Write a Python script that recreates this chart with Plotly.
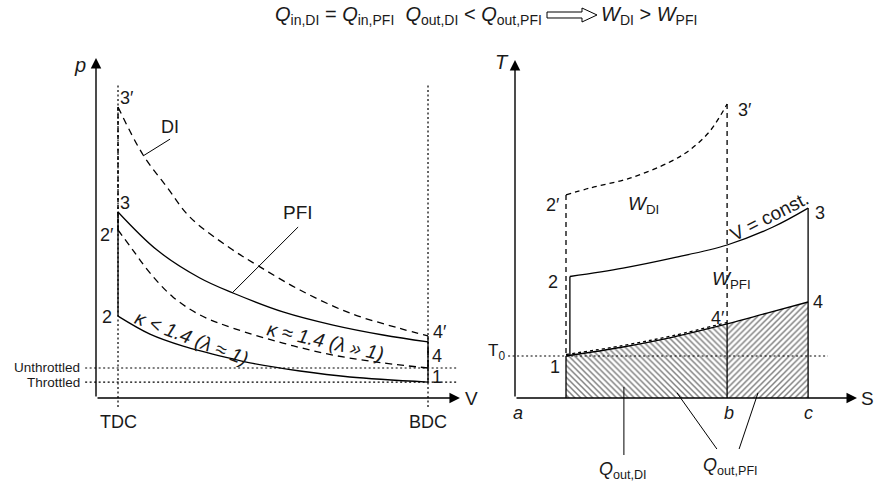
import plotly.graph_objects as go

FONT = "Liberation Sans"

# ---------------- left panel: p–V diagram (diagram units) ----------------
V_TDC = 0.71
V_BDC = 10.71
P_UNTHROTTLED = 10.0
P_THROTTLED = 5.3

pfi_comp_V = [10.71, 8.19, 6.58, 4.97, 4.42, 2.81, 1.74, 0.71]
pfi_comp_p = [5.3, 7.0, 9.0, 11.7, 13.0, 17.3, 21.3, 27.3]
pfi_exp_V = [0.71, 1.97, 3.35, 4.42, 6.03, 7.65, 9.26, 10.71]
pfi_exp_p = [62.0, 49.3, 40.0, 35.0, 28.7, 24.3, 21.0, 18.7]
di_comp_V = [10.71, 9.26, 7.65, 6.03, 4.42, 3.35, 2.48, 1.74, 1.19, 0.71]
di_comp_p = [10.0, 11.7, 14.3, 18.3, 23.3, 27.7, 33.7, 41.7, 49.3, 56.0]
di_exp_V = [0.71, 1.52, 2.29, 3.03, 4.32, 5.29, 6.58, 8.19, 9.77, 10.71]
di_exp_p = [97.0, 81.0, 70.3, 60.3, 50.0, 43.7, 36.0, 28.3, 23.3, 20.7]

# ---------------- right panel: T–S diagram (diagram units) ----------------
S_1 = 1.70
S_2 = 1.83
S_b = 7.07
S_c = 9.77
T_0 = 14.0

pfi_heat_S = [1.83, 3.6, 5.27, 7.07, 8.6, 9.77]
pfi_heat_T = [40.5, 43.3, 46.7, 51.0, 57.0, 63.3]
di_heat_S = [1.70, 2.5, 3.83, 5.17, 5.83, 6.5, 7.07]
di_heat_T = [67.7, 70.0, 73.3, 78.7, 82.7, 89.0, 98.0]
reject_S = [1.70, 3.6, 5.27, 7.07, 8.4, 9.77]
reject_T = [14.0, 17.0, 20.3, 24.7, 28.3, 32.0]

fig = go.Figure()


def line(x, y, ax="l", dash="solid", width=1.3, spline=False):
    xa, ya = ("x", "y") if ax == "l" else ("x2", "y2")
    fig.add_trace(go.Scatter(
        x=x, y=y, xaxis=xa, yaxis=ya, mode="lines", hoverinfo="skip",
        line=dict(color="black", width=width, dash=dash,
                  shape="spline" if spline else "linear"),
        showlegend=False))


def label(x, y, text, ax="l", size=18, angle=0, anchor="center", italic=False):
    xr, yr = ("x", "y") if ax == "l" else ("x2", "y2")
    if italic:
        text = "<i>" + text + "</i>"
    fig.add_annotation(x=x, y=y, xref=xr, yref=yr, text=text, showarrow=False,
                       textangle=angle, xanchor=anchor, yanchor="middle",
                       font=dict(family=FONT, size=size, color="#1a1a1a"))


def arrow(x0, y0, x1, y1, ax="l"):
    xr, yr = ("x", "y") if ax == "l" else ("x2", "y2")
    fig.add_annotation(x=x1, y=y1, ax=x0, ay=y0, xref=xr, yref=yr, axref=xr, ayref=yr,
                       text="", showarrow=True, arrowhead=2, arrowsize=1.5,
                       arrowwidth=1.4, arrowcolor="black")


DOT = "2px,2.5px"
DASH_L = "7px,5px"
DASH_R = "5px,4px"

# ---- left panel ----
# reference dotted lines
line([V_TDC, V_TDC], [-3, 104.3], dash=DOT, width=1.2)
line([V_BDC, V_BDC], [-3, 104.3], dash=DOT, width=1.2)
line([-0.35, 11.68], [P_UNTHROTTLED, P_UNTHROTTLED], dash=DOT, width=1.2)
line([-0.35, 11.68], [P_THROTTLED, P_THROTTLED], dash=DOT, width=1.2)
# PFI cycle (solid)
line(pfi_comp_V, pfi_comp_p, spline=True)
line([V_TDC, V_TDC], [pfi_comp_p[-1], pfi_exp_p[0]])
line(pfi_exp_V, pfi_exp_p, spline=True)
line([V_BDC, V_BDC], [pfi_exp_p[-1], pfi_comp_p[0]])
# DI cycle (dashed)
line(di_comp_V, di_comp_p, dash=DASH_L, spline=True)
line([V_TDC, V_TDC], [di_comp_p[-1], di_exp_p[0]], dash="4px,3px", width=1.5)
line(di_exp_V, di_exp_p, dash=DASH_L, spline=True)
line([V_BDC, V_BDC], [di_exp_p[-1], di_comp_p[0]], dash=DASH_L)
# leaders
line([1.52, 2.39], [80.7, 86.3], width=1)
line([4.39, 6.52], [35.0, 57.0], width=1)
# axes
arrow(0, 0, 0, 113.3)
arrow(0, 0, 11.74, 0)

label(-0.52, 111, "p", size=20, italic=True)
label(12.1, 0, "V", size=19)
label(1.0, 100, "3′")
label(0.94, 65, "3")
label(0.35, 54.3, "2′")
label(0.35, 27, "2")
label(2.39, 90.3, "DI")
label(6.52, 61.7, "PFI", size=19)
label(11.1, 22, "4′")
label(11.0, 14, "4")
label(11.0, 7, "1")
label(-0.45, P_UNTHROTTLED + 0.2, "Unthrottled", size=13.5, anchor="right")
label(-0.45, P_THROTTLED - 0.2, "Throttled", size=13.5, anchor="right")
label(V_TDC, -8, "TDC")
label(V_BDC, -8, "BDC")
label(3.10, 20.0, "<i>κ</i> < 1.4 (<i>λ</i> ≈ 1)", size=19.5, angle=21, italic=True)
label(7.39, 19.0, "<i>κ</i> ≈ 1.4 (<i>λ</i> » 1)", size=19.5, angle=12.5, italic=True)

# ---- right panel ----
# hatched areas (heat rejected)
fig.add_trace(go.Scatter(
    x=reject_S[:4] + [S_b, S_1], y=reject_T[:4] + [0, 0], xaxis="x2", yaxis="y2",
    mode="lines", fill="toself", line=dict(width=0), fillcolor="rgba(0,0,0,0)",
    fillpattern=dict(shape="\\", size=4.2, solidity=0.35, fgcolor="black", bgcolor="white"),
    hoverinfo="skip", showlegend=False))
fig.add_trace(go.Scatter(
    x=reject_S[3:] + [S_c, S_b], y=reject_T[3:] + [0, 0], xaxis="x2", yaxis="y2",
    mode="lines", fill="toself", line=dict(width=0), fillcolor="rgba(0,0,0,0)",
    fillpattern=dict(shape="/", size=4.2, solidity=0.35, fgcolor="black", bgcolor="white"),
    hoverinfo="skip", showlegend=False))

line([-0.23, 10.43], [T_0, T_0], ax="r", dash=DOT, width=1.2)
line(pfi_heat_S, pfi_heat_T, ax="r", spline=True)
line(di_heat_S, di_heat_T, ax="r", dash=DASH_R, spline=True)
line(reject_S, reject_T, ax="r", spline=True)
line(reject_S[:4], [t + 0.5 for t in reject_T[:4]], ax="r", dash="3px,3px", spline=True)
line([S_1, S_1], [di_heat_T[0], T_0], ax="r", dash=DASH_R)
line([S_2, S_2], [pfi_heat_T[0], T_0], ax="r")
line([S_1, S_1], [T_0, 0], ax="r")
line([S_b, S_b], [di_heat_T[-1], reject_T[3]], ax="r", dash=DASH_R)
line([S_b, S_b], [reject_T[3], 0], ax="r")
line([S_c, S_c], [pfi_heat_T[-1], 0], ax="r")
# leaders
line([3.63, 3.63], [3.7, -19.0], ax="r", width=1)
line([5.4, 6.73], [1.7, -17.0], ax="r", width=1)
line([8.1, 7.47], [1.7, -17.0], ax="r", width=1)
# axes
arrow(0, 0, 0, 112.7, ax="r")
arrow(0, 0, 11.4, 0, ax="r")

label(-0.45, 112, "T", ax="r", size=20, italic=True)
label(11.75, 0, "S", ax="r", size=19)
label(-0.63, 15.5, "T<sub>0</sub>", ax="r", size=17)
label(1.27, 64.3, "2′", ax="r")
label(1.27, 38.7, "2", ax="r")
label(1.33, 10.3, "1", ax="r")
label(7.65, 96, "3′", ax="r")
label(10.15, 61.7, "3", ax="r")
label(10.1, 32, "4", ax="r")
label(6.75, 26.7, "4′", ax="r")
label(4.27, 64.3, "<i>W</i><sub>DI</sub>", ax="r", size=19)
label(7.2, 39.3, "<i>W</i><sub>PFI</sub>", ax="r", size=19)
label(8.47, 60.5, "V = const.", ax="r", size=19, angle=-27)
label(0.1, -5, "a", ax="r", italic=True)
label(7.13, -5, "b", ax="r", italic=True)
label(9.77, -5, "c", ax="r", italic=True)
label(3.6, -24, "<i>Q</i><sub>out,DI</sub>", ax="r", size=18)
label(7.17, -22.7, "<i>Q</i><sub>out,PFI</sub>", ax="r", size=18)

# ---- heading formula ----
W, H = 874, 482
fig.add_annotation(x=544 / W, y=1 - 15 / H, xref="paper", yref="paper", showarrow=False,
                   xanchor="right", yanchor="middle",
                   text="<i>Q</i><sub>in,DI</sub> = <i>Q</i><sub>in,PFI</sub>  "
                        "<i>Q</i><sub>out,DI</sub> < <i>Q</i><sub>out,PFI</sub>",
                   font=dict(family=FONT, size=20, color="#1a1a1a"))
fig.add_annotation(x=599 / W, y=1 - 15 / H, xref="paper", yref="paper", showarrow=False,
                   xanchor="left", yanchor="middle",
                   text="<i>W</i><sub>DI</sub> > <i>W</i><sub>PFI</sub>",
                   font=dict(family=FONT, size=20, color="#1a1a1a"))
pts = [(547, 12), (582, 12), (582, 8), (597, 15), (582, 22), (582, 18), (547, 18)]
path = "M " + " L ".join(f"{x / W:.5f},{1 - y / H:.5f}" for x, y in pts) + " Z"
fig.add_shape(type="path", path=path, xref="paper", yref="paper",
              line=dict(color="black", width=1), fillcolor="white")

XL = 480 / W
fig.update_layout(
    width=W, height=H, margin=dict(l=0, r=0, t=0, b=0),
    paper_bgcolor="white", plot_bgcolor="white",
    xaxis=dict(domain=[0, XL], range=[-96 / 31, 384 / 31], visible=False),
    yaxis=dict(domain=[0, 1], range=[-28, 398 / 3], visible=False),
    xaxis2=dict(domain=[XL, 1], range=[(480 - 515) / 30, (874 - 515) / 30], visible=False, anchor="y2"),
    yaxis2=dict(domain=[0, 1], range=[-28, 398 / 3], visible=False, anchor="x2"),
)

fig.write_html("out.html")
